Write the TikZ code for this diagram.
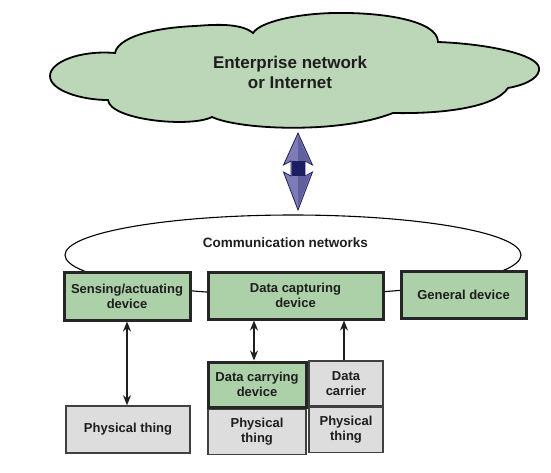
\documentclass[tikz,border=0pt]{standalone}
\usepackage{fontspec}
\setsansfont{Liberation Sans}
\usetikzlibrary{positioning,shapes.geometric,arrows.meta}

\definecolor{cloudgreen}{RGB}{188,215,184}
\definecolor{boxgreen}{RGB}{172,209,168}
\definecolor{boxgray}{RGB}{221,221,221}
\definecolor{textdark}{RGB}{30,30,30}
\definecolor{arrowlight}{RGB}{124,124,182}
\definecolor{arrowmid}{RGB}{96,96,158}
\definecolor{arrownavy}{RGB}{30,30,98}

\tikzset{
  boxtext/.style={font=\sffamily\bfseries\fontsize{13}{15}\selectfont, text=textdark, align=center, inner sep=2pt},
  greenbox/.style={boxtext, draw=black!85, line width=3pt, fill=boxgreen},
  graybox/.style={boxtext, draw=black!75, line width=1.5pt, fill=boxgray},
  cloudtext/.style={font=\sffamily\bfseries\fontsize{17}{20}\selectfont, text=textdark, align=center},
  link/.style={draw=textdark, line width=1.3pt, {Stealth[length=10pt,width=8pt]}-{Stealth[length=10pt,width=8pt]}},
  uplink/.style={draw=textdark, line width=1.3pt, -{Stealth[length=10pt,width=8pt]}},
}

\begin{document}
\begin{tikzpicture}[x=1pt,y=-1pt]
  \useasboundingbox (0,0) rectangle (551,472);

  % cloud
  \draw[line width=1.8pt, fill=cloudgreen] (115,53)
    .. controls (80,50) and (50,62) .. (50,76)
    .. controls (50,90) and (80,100) .. (108,100)
    .. controls (110,120) and (190,128) .. (212,117)
    .. controls (240,130) and (340,134) .. (393,113)
    .. controls (440,114) and (495,108) .. (508,88)
    .. controls (530,84) and (540,76) .. (539,68)
    .. controls (538,55) and (490,44) .. (438,42)
    .. controls (438,20) and (380,12) .. (333,13)
    .. controls (295,14) and (260,22) .. (253,33)
    .. controls (240,22) and (210,25) .. (195,26)
    .. controls (150,28) and (118,38) .. (115,53) -- cycle;
  \node[cloudtext] (net) at (290,72) {Enterprise network\\or Internet};

  % block arrow
  \draw[draw=arrownavy, line width=0.8pt, fill=arrowlight] (298,133) -- (312.5,165) -- (305,161)
    -- (305,176) -- (312.5,172) -- (298,210) -- (283.5,172) -- (291,176)
    -- (291,161) -- (283.5,165) -- cycle;
  \fill[arrowmid] (298,136) -- (310.5,163.5) -- (305,161) -- (298,162) -- cycle;
  \fill[arrowmid] (298,207) -- (310.5,173.5) -- (305,176) -- (298,175) -- cycle;
  \fill[arrownavy] (291.5,161) rectangle (304.5,176);

  % communication networks
  \node[draw, ellipse, line width=1.1pt, minimum width=456pt, minimum height=80pt] (comm) at (293,255) {};
  \node[boxtext, font=\sffamily\bfseries\fontsize{13.5}{15}\selectfont] (commlabel) at (285.5,242.5) {Communication networks};

  \node[greenbox, minimum width=126pt, minimum height=48pt] (sad) at (127,296) {Sensing/actuating\\device};
  \node[greenbox, minimum width=175pt, minimum height=47pt] (dcap) at (295.5,295.5) {Data capturing\\device};
  \node[greenbox, minimum width=125pt, minimum height=47pt] (gen) at (463.5,294.5) {General device};

  \node[graybox, minimum width=124pt, minimum height=47pt] (phy1) at (128,429.5) {Physical thing};
  \node[greenbox, minimum width=98pt, minimum height=45pt] (dcd) at (257,384.5) {Data carrying\\device};
  \node[graybox, minimum width=98pt, minimum height=45pt, below=0pt of dcd] (phy2) {Physical\\thing};
  \node[graybox, minimum width=74pt, minimum height=45pt] (dcr) at (346,383.5) {Data\\carrier};
  \node[graybox, minimum width=74pt, minimum height=45pt, below=0pt of dcr] (phy3) {Physical\\thing};

  \draw[link] (sad.south) -- (sad.south |- phy1.north);
  \draw[link] ([xshift=-3pt]dcd.north) -- ([xshift=-3pt]dcd.north |- dcap.south);
  \draw[uplink] ([xshift=-2pt]dcr.north) -- ([xshift=-2pt]dcr.north |- dcap.south);
\end{tikzpicture}
\end{document}
